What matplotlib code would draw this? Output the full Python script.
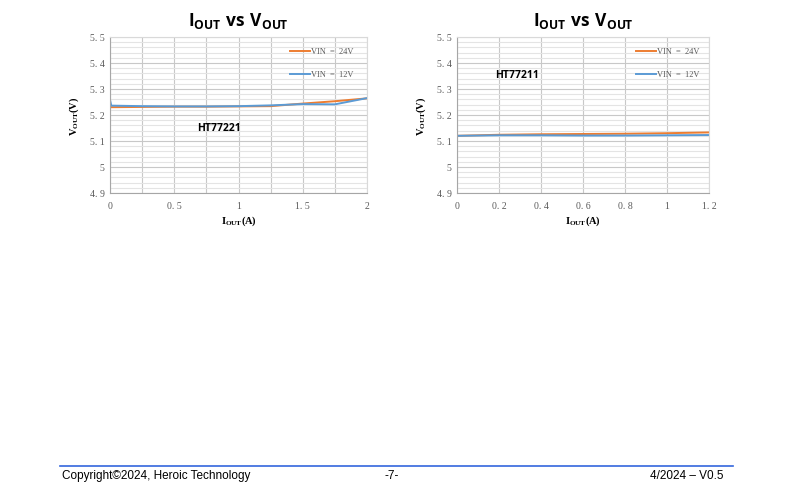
import numpy as np
import matplotlib.pyplot as plt
from matplotlib.ticker import MultipleLocator, FuncFormatter

plt.rcParams['mathtext.fontset'] = 'custom'
plt.rcParams['mathtext.rm'] = 'Open Sans:bold'
plt.rcParams['mathtext.bf'] = 'Liberation Serif:bold'

# HT77221 (left chart)
i_221 = [0, 0.01, 0.25, 0.5, 0.75, 1.0, 1.25, 1.5, 1.75, 2.0]
v24_221 = [5.232, 5.230, 5.231, 5.232, 5.232, 5.233, 5.234, 5.244, 5.253, 5.264]
v12_221 = [5.258, 5.236, 5.234, 5.233, 5.233, 5.234, 5.237, 5.242, 5.241, 5.265]

# HT77211 (right chart)
i_211 = [0, 0.2, 0.4, 0.6, 0.8, 1.0, 1.2]
v24_211 = [5.120, 5.124, 5.126, 5.127, 5.128, 5.130, 5.133]
v12_211 = [5.120, 5.122, 5.122, 5.121, 5.121, 5.122, 5.123]

ORANGE = '#ED7D31'
BLUE = '#5B9BD5'
GRAY = '#595959'


def fmt(v, pos):
  s = ('%g' % round(v, 2))
  return s.replace('.', '. ')


def make_panel(ax, x, y24, y12, xmax, xstep, part, part_xy, leg_x):
  ax.plot(x, y24, color=ORANGE, lw=1.4)
  ax.plot(x, y12, color=BLUE, lw=1.4)
  ax.set_xlim(0, xmax)
  ax.set_ylim(4.9, 5.5)
  ax.xaxis.set_major_locator(MultipleLocator(xstep))
  ax.yaxis.set_major_locator(MultipleLocator(0.1))
  ax.yaxis.set_minor_locator(MultipleLocator(0.02))
  ax.grid(which='major', color='#c8c8c8', lw=0.8)
  ax.grid(which='minor', axis='y', color='#e4e4e4', lw=0.8)
  ax.set_axisbelow(True)
  ax.tick_params(which='both', length=0, labelsize=7, labelcolor=GRAY, pad=4)
  ax.tick_params(axis='x', pad=6)
  for lab in ax.get_xticklabels() + ax.get_yticklabels():
    lab.set_family('Liberation Serif')
  ax.xaxis.set_major_formatter(FuncFormatter(fmt))
  ax.yaxis.set_major_formatter(FuncFormatter(fmt))
  for sp in ax.spines.values():
    sp.set_color('#d9d9d9')
  ax.spines['left'].set_color('#a6a6a6')
  ax.spines['bottom'].set_color('#a6a6a6')
  ax.set_title(r'$\mathrm{I_{OUT}\ vs\ V_{OUT}}$', fontsize=12.5, pad=9)
  ax.set_xlabel(r'$\mathbf{I_{OUT}(A)}$', fontsize=7.5, labelpad=2)
  ax.set_ylabel(r'$\mathbf{V_{OUT}(V)}$', fontsize=7.5, labelpad=6)
  ax.text(part_xy[0], part_xy[1], part, transform=ax.transAxes, fontsize=7.5,
          fontweight='bold', family='Open Sans', ha='left', va='center')
  for yy, col, lab in [(0.91, ORANGE, 'VIN  =  24V'), (0.76, BLUE, 'VIN  =  12V')]:
    ax.plot([leg_x, leg_x + 0.08], [yy, yy], color=col, lw=1.4, transform=ax.transAxes)
    ax.text(leg_x + 0.082, yy, lab, transform=ax.transAxes, fontsize=6,
            family='Liberation Serif', color=GRAY, va='center')


fig = plt.figure(figsize=(7.86, 4.89), dpi=100)
ax1 = fig.add_axes([110 / 786, 1 - 194 / 489, 257 / 786, 156 / 489])
ax2 = fig.add_axes([457 / 786, 1 - 194 / 489, 252 / 786, 156 / 489])
make_panel(ax1, i_221, v24_221, v12_221, 2, 0.25, 'HT77221', (0.34, 0.42), 0.70)
make_panel(ax2, i_211, v24_211, v12_211, 1.2, 0.2, 'HT77211', (0.15, 0.76), 0.71)
ax1.xaxis.set_major_formatter(FuncFormatter(lambda v, p: fmt(v, p) if abs(v * 2 - round(v * 2)) < 1e-9 else ''))

# footer
fig.add_artist(plt.Line2D([60 / 786, 733 / 786], [1 - 467 / 489] * 2, color='#3366dd', lw=1.2))
fig.text(62 / 786, 1 - 476 / 489, 'Copyright\u00a92024, Heroic Technology', fontsize=8.5,
         family='Liberation Sans', va='center')
fig.text(392 / 786, 1 - 476 / 489, '-7-', fontsize=8.5, family='Liberation Sans', va='center', ha='center')
fig.text(723 / 786, 1 - 476 / 489, '4/2024 \u2013 V0.5', fontsize=8.5, family='Liberation Sans',
         va='center', ha='right')

fig.savefig('out.png', dpi=100)
